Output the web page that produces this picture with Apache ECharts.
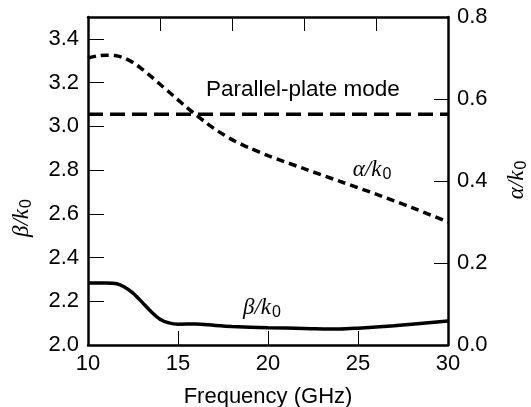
<!DOCTYPE html>
<html>
<head>
<meta charset="utf-8">
<script src="https://cdn.jsdelivr.net/npm/echarts@6/dist/echarts.min.js"></script>
<style>
html,body{margin:0;padding:0;background:#fff;}
#c{width:531px;height:407px;}
</style>
</head>
<body>
<div id="c"></div>
<script>
// Data
var betaFreq = [10, 11, 11.6, 12, 12.5, 13, 13.5, 14, 14.5, 15, 16, 17, 18, 20, 22, 24, 25, 27, 30];
var betaVal  = [2.283, 2.283, 2.28, 2.266, 2.237, 2.196, 2.153, 2.118, 2.101, 2.095, 2.096, 2.09, 2.085, 2.079, 2.076, 2.073, 2.077, 2.088, 2.11];
var alphaFreq = [10, 10.5, 11, 11.5, 12, 12.5, 13, 13.5, 14, 14.5, 15, 15.5, 16, 16.5, 17, 17.5, 18, 18.5, 19, 20, 22, 24, 26, 28, 30];
var alphaVal  = [0.700, 0.705, 0.707, 0.706, 0.700, 0.689, 0.673, 0.655, 0.636, 0.617, 0.598, 0.579, 0.561, 0.544, 0.528, 0.514, 0.501, 0.490, 0.480, 0.462, 0.430, 0.399, 0.368, 0.335, 0.300];
var plateFreq = [10, 30];
var plateVal  = [3.055, 3.055];
var xTicks = [10, 15, 20, 25, 30];
var leftTicks = [2.0, 2.2, 2.4, 2.6, 2.8, 3.0, 3.2, 3.4];
var rightTicks = [0.0, 0.2, 0.4, 0.6, 0.8];

function pairs(xs, ys){ return xs.map(function(x,i){ return [x, ys[i]]; }); }

var FONT = '"Liberation Sans", Arial, Helvetica, sans-serif';
var lineStyleAxis = {color:'#000', width:2.5};
var chart = echarts.init(document.getElementById('c'), null, {renderer:'canvas'});
var mathRich = {
  it: {fontFamily:'"Liberation Serif", "DejaVu Serif", serif', fontStyle:'italic', fontSize:23, color:'#000'},
  sub: {fontFamily:FONT, fontSize:16, color:'#000', verticalAlign:'bottom', padding:[9,0,0,1]}
};
chart.setOption({
  animation:false,
  backgroundColor:'#fff',
  grid:{left:88, right:83, top:17, bottom:62, containLabel:false, outerBoundsMode:'none'},
  xAxis:[{
    type:'value', min:10, max:30, interval:5, position:'bottom',
    axisLine:{show:true, lineStyle:lineStyleAxis},
    axisTick:{show:true, inside:true, length:14, lineStyle:{color:'#000', width:1}},
    axisLabel:{color:'#000', fontSize:22, fontFamily:FONT, margin:8,
      formatter:function(v){ return xTicks.indexOf(v)>=0 ? String(v) : ''; }},
    splitLine:{show:false},
    name:'Frequency (GHz)', nameLocation:'middle', nameGap:41,
    nameTextStyle:{color:'#000', fontSize:22, fontFamily:FONT}
  },{
    type:'value', min:0, max:20, interval:4, position:'top',
    axisLine:{show:true, lineStyle:lineStyleAxis},
    axisTick:{show:true, inside:true, length:14, lineStyle:{color:'#000', width:1}},
    axisLabel:{show:false}, splitLine:{show:false}
  }],
  yAxis:[{
    type:'value', min:2.0, max:3.5, interval:0.2, position:'left',
    axisLine:{show:true, lineStyle:lineStyleAxis},
    axisTick:{show:true, inside:true, length:16, lineStyle:{color:'#000', width:1}},
    axisLabel:{color:'#000', fontSize:22, fontFamily:FONT, margin:9, showMaxLabel:false,
      formatter:function(v){ return v.toFixed(1); }},
    splitLine:{show:false}
  },{
    type:'value', min:0, max:0.8, interval:0.2, position:'right',
    axisLine:{show:true, lineStyle:lineStyleAxis},
    axisTick:{show:true, inside:true, length:14, lineStyle:{color:'#000', width:1}},
    axisLabel:{color:'#000', fontSize:22, fontFamily:FONT, margin:9,
      formatter:function(v){ return v.toFixed(1); }},
    splitLine:{show:false}
  }],
  series:[{
    type:'line', name:'beta', xAxisIndex:0, yAxisIndex:0, data:pairs(betaFreq, betaVal),
    showSymbol:false, smooth:0.3,
    lineStyle:{color:'#000', width:3.5, type:'solid'}
  },{
    type:'line', name:'alpha', xAxisIndex:0, yAxisIndex:1, data:pairs(alphaFreq, alphaVal),
    showSymbol:false, smooth:0.3,
    lineStyle:{color:'#000', width:3.5, type:[8,5]}
  },{
    type:'line', name:'plate', xAxisIndex:0, yAxisIndex:0, data:pairs(plateFreq, plateVal),
    showSymbol:false,
    lineStyle:{color:'#000', width:3.5, type:[15,7]}
  }],
  graphic:[
    {type:'text', left:206, top:78, style:{text:'Parallel-plate mode', fill:'#000', font:'22.5px ' + FONT}},
    {type:'text', x:372, y:170, style:{text:'{it|α/k}{sub|0}', rich:mathRich, align:'center', verticalAlign:'middle'}},
    {type:'text', x:262, y:308, style:{text:'{it|β/k}{sub|0}', rich:mathRich, align:'center', verticalAlign:'middle'}},
    {type:'text', x:22, y:218, rotation:Math.PI/2, style:{text:'{it|β/k}{sub|0}', rich:mathRich, align:'center', verticalAlign:'middle'}},
    {type:'text', x:517, y:180, rotation:Math.PI/2, style:{text:'{it|α/k}{sub|0}', rich:mathRich, align:'center', verticalAlign:'middle'}}
  ]
});
</script>
</body>
</html>
